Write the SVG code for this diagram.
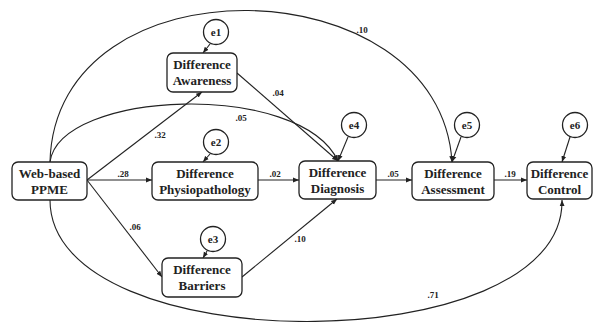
<svg xmlns="http://www.w3.org/2000/svg" width="594" height="322" viewBox="0 0 594 322">
<style>
.box{fill:#fff;stroke:#222;stroke-width:1.3}
.err{fill:#fff;stroke:#222;stroke-width:1.3}
text{font-family:"Liberation Serif",serif;font-weight:bold;fill:#222;text-anchor:middle}
.t{font-size:13px}
.e{font-size:11px}
.l{font-size:9px}
.c{fill:none;stroke:#222;stroke-width:1.1}
</style>
<defs>
<marker id="a" viewBox="0 0 10 10" refX="10" refY="5" markerWidth="6" markerHeight="6" orient="auto" markerUnits="userSpaceOnUse">
<path d="M0,1 L10,5 L0,9 z" fill="#222"/>
</marker>
</defs>
<g id="connectors">
<path class="c" d="M50,162 C55,-45 440,-35 452,162" marker-end="url(#a)"/>
<path class="c" d="M50,162 C60,90 300,80 338,161" marker-end="url(#a)"/>
<path class="c" d="M50,200 C50,362 565,362 562,200" marker-end="url(#a)"/>
<line class="c" x1="87" y1="180" x2="202" y2="92" marker-end="url(#a)"/>
<line class="c" x1="87" y1="180" x2="152" y2="180" marker-end="url(#a)"/>
<line class="c" x1="87" y1="180" x2="162" y2="277" marker-end="url(#a)"/>
<line class="c" x1="237" y1="73" x2="338" y2="161" marker-end="url(#a)"/>
<line class="c" x1="258" y1="180" x2="299" y2="180" marker-end="url(#a)"/>
<line class="c" x1="242" y1="277" x2="337" y2="199" marker-end="url(#a)"/>
<line class="c" x1="376" y1="180" x2="412" y2="180" marker-end="url(#a)"/>
<line class="c" x1="494" y1="180" x2="527" y2="180" marker-end="url(#a)"/>
<line class="c" x1="210" y1="44" x2="203" y2="53" marker-end="url(#a)"/>
<line class="c" x1="210" y1="154" x2="203" y2="162" marker-end="url(#a)"/>
<line class="c" x1="207" y1="251" x2="203" y2="258" marker-end="url(#a)"/>
<line class="c" x1="348" y1="137" x2="338" y2="161" marker-end="url(#a)"/>
<line class="c" x1="461" y1="137" x2="452" y2="162" marker-end="url(#a)"/>
<line class="c" x1="570" y1="137" x2="562" y2="162" marker-end="url(#a)"/>
<text class="l" x="362" y="33">.10</text>
<text class="l" x="278" y="96">.04</text>
<text class="l" x="241" y="121">.05</text>
<text class="l" x="160" y="138">.32</text>
<text class="l" x="123" y="177">.28</text>
<text class="l" x="275" y="177">.02</text>
<text class="l" x="393" y="177">.05</text>
<text class="l" x="510" y="177">.19</text>
<text class="l" x="135" y="230">.06</text>
<text class="l" x="300" y="242">.10</text>
<text class="l" x="433" y="298">.71</text>
</g>
<g id="web"><rect class="box" x="12" y="162" width="75" height="38" rx="6"/><text class="t" x="49.5" y="178">Web-based</text><text class="t" x="49.5" y="194">PPME</text></g>
<g id="awareness"><rect class="box" x="167" y="53" width="70" height="39" rx="6"/><text class="t" x="202" y="69">Difference</text><text class="t" x="202" y="85">Awareness</text></g>
<g id="physio"><rect class="box" x="152" y="162" width="106" height="38" rx="6"/><text class="t" x="205" y="178">Difference</text><text class="t" x="205" y="194">Physiopathology</text></g>
<g id="barriers"><rect class="box" x="162" y="258" width="80" height="39" rx="6"/><text class="t" x="202" y="274">Difference</text><text class="t" x="202" y="290">Barriers</text></g>
<g id="diagnosis"><rect class="box" x="299" y="161" width="77" height="38" rx="6"/><text class="t" x="337.5" y="177">Difference</text><text class="t" x="337.5" y="193">Diagnosis</text></g>
<g id="assessment"><rect class="box" x="412" y="162" width="82" height="38" rx="6"/><text class="t" x="453" y="178">Difference</text><text class="t" x="453" y="194">Assessment</text></g>
<g id="control"><rect class="box" x="527" y="162" width="65" height="37" rx="6"/><text class="t" x="559.5" y="178">Difference</text><text class="t" x="559.5" y="194">Control</text></g>
<g id="e1"><circle class="err" cx="216" cy="32" r="12.5"/><text class="e" x="216" y="36">e1</text></g>
<g id="e2"><circle class="err" cx="216" cy="142" r="12.5"/><text class="e" x="216" y="146">e2</text></g>
<g id="e3"><circle class="err" cx="213" cy="239" r="12.5"/><text class="e" x="213" y="243">e3</text></g>
<g id="e4"><circle class="err" cx="354" cy="125" r="12.5"/><text class="e" x="354" y="129">e4</text></g>
<g id="e5"><circle class="err" cx="467" cy="125" r="12.5"/><text class="e" x="467" y="129">e5</text></g>
<g id="e6"><circle class="err" cx="575" cy="125" r="12.5"/><text class="e" x="575" y="129">e6</text></g>
</svg>
